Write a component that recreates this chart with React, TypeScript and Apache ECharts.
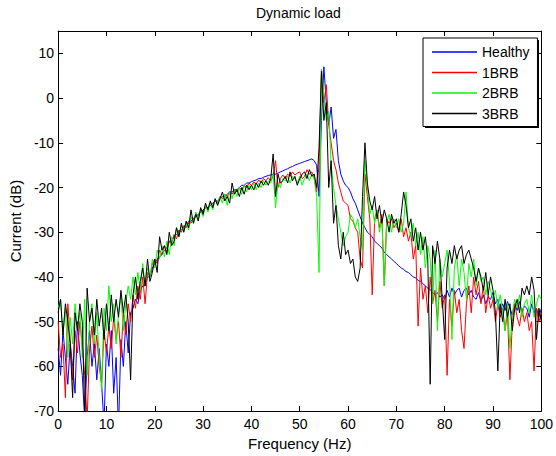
import React, { useEffect, useRef } from "react";
import * as echarts from "echarts";

// Sampling grid of the spectrum (Hz)
const FREQ_HZ: number[] = Array.from({ length: 201 }, (_, i) => i * 0.5);

const SERIES_NAMES = ["Healthy", "1BRB", "2BRB", "3BRB"];
const SERIES_COLORS = ["#0000ff", "#ff0000", "#00ff00", "#000000"];

// Current spectra (dB), one value per 0.5 Hz from 0 to 100 Hz
const HEALTHY: number[] = [
  -56, -62, -52, -58, -64, -55, -60, -66, -50, -57,
  -62, -72, -58, -52, -60, -55, -63, -56, -64, -73,
  -55, -60, -52, -66, -58, -74, -54, -60, -50, -57,
  -48, -47, -45, -46, -43, -42, -42, -40, -40, -38,
  -37, -36, -35.5, -35, -34, -33.5, -32, -32, -31, -30.5,
  -30, -29.5, -29, -28, -28, -27.5, -27, -26.5, -26, -25.5,
  -25, -24.5, -24.5, -24, -23.5, -23, -23, -22.5, -22, -22,
  -21.5, -21, -21, -20.5, -20.5, -20, -19.5, -19.5, -19, -19,
  -18.7, -18.5, -18.3, -18, -18, -17.7, -17.5, -17.3, -17.2, -17,
  -17, -16.8, -16.5, -16.3, -16, -15.8, -15.5, -15.3, -15, -14.8,
  -14.6, -14.4, -14.2, -14, -13.8, -13.6, -14, -15, -22, -5,
  7, -1, -6, -2, -9, -7, -14, -17, -18.5, -19.5,
  -20, -21, -22.5, -23.5, -25, -26.5, -28, -29, -30, -30.5,
  -31, -32, -32.5, -33, -33.5, -34.5, -35, -35.5, -36, -36.5,
  -37, -37.5, -38, -38.3, -38.8, -39, -39.5, -40, -40.2, -40.8,
  -41, -41.5, -42, -42.5, -42.8, -43.5, -44, -43.5, -44.5, -44,
  -45, -43, -44.5, -42.5, -44, -43, -42.5, -44.5, -43, -42.5,
  -44, -43, -44.5, -45, -43.5, -45.5, -44, -46, -44.5, -45,
  -43.5, -46, -45, -48, -46, -47.5, -45.5, -47, -48.5, -46,
  -47.5, -45.5, -48, -46.5, -47, -49, -46, -48, -47, -49,
  -47,
];

const BRB1: number[] = [
  -50, -58, -55, -67, -46, -54, -63, -52, -57, -50,
  -55, -62, -72, -56, -51, -58, -53, -60, -64, -52,
  -57, -51, -56, -49, -54, -50, -58, -48, -53, -46,
  -50, -44, -47, -42, -45, -40, -46, -39, -40, -37,
  -36, -37, -34, -35, -33, -34.5, -32, -32.5, -30.5, -31.5,
  -29.5, -30, -28.5, -29, -27.5, -28, -27, -26, -26.5, -25,
  -25.5, -24.5, -24.8, -23.5, -24, -23, -23.5, -22, -22.5, -21.5,
  -22, -21, -21.5, -20.5, -21, -20, -20.5, -19.5, -20, -19,
  -19.5, -18.8, -19.2, -18.3, -19, -18, -18.5, -17.8, -18.5, -17.5,
  -14, -20, -18, -17.2, -18, -17, -17.5, -16.5, -17.2, -16.8,
  -16.5, -18, -17.5, -16, -17, -16.5, -18, -21, -15, 6.5,
  -1, 3, -6, -10, -14, -16, -19, -21, -23, -23.5,
  -24, -27, -27.5, -29, -30, -36, -38, -17, -22, -27,
  -44, -27, -25, -29, -26, -42, -27, -28, -27, -29,
  -28, -30, -27, -31, -29, -32, -30, -36, -33, -51,
  -38, -45, -42, -48, -40, -46, -43, -50, -41, -47,
  -44, -62, -45, -51, -43, -48, -45, -52, -56, -46,
  -42, -48, -40, -44, -41, -46, -42, -48, -44, -47,
  -45, -50, -46, -49, -47, -52, -48, -63, -50, -46,
  -49, -51, -47, -50, -48, -52, -50, -61, -47, -50,
  -48,
];

const BRB2: number[] = [
  -47, -45, -53, -47, -58, -49, -55, -46, -52, -48,
  -58, -45, -62, -50, -46, -55, -48, -58, -65, -47,
  -52, -42, -50, -46, -55, -48, -44, -52, -46, -42,
  -45, -40, -44, -39, -43, -37, -42, -38, -40, -36,
  -38, -34, -36, -33, -35.5, -32, -35, -31, -33, -29,
  -31, -28.5, -30, -28, -29.5, -26.5, -28, -25.5, -27, -25,
  -26.5, -24, -25.5, -23.5, -25, -22.5, -24, -22, -23.5, -21.5,
  -24, -21, -22.5, -20.5, -22, -20, -21.5, -19.5, -21, -19.5,
  -20.5, -19, -20.5, -19, -20, -18.5, -19.5, -18.5, -19, -17,
  -24.5, -19, -20, -18, -18.5, -17.5, -19, -17.5, -18, -19,
  -17.5, -19.5, -18, -17, -18.5, -17, -18, -22, -39, 6.5,
  0, -5, -3, -15, -20, -24, -27, -30, -33, -31,
  -30, -26, -27, -29, -27, -31, -34, -14, -20, -26,
  -24, -28, -25, -30, -27, -42, -28, -26, -30, -27,
  -29, -27, -30, -28, -21, -29, -31, -28, -33, -30,
  -35, -31, -38, -33, -36, -46, -34, -52, -36, -40,
  -37, -34, -41, -54, -38, -35, -42, -36, -39, -45,
  -37, -40, -36, -42, -38, -41, -40, -44, -41, -43,
  -45, -43, -47, -44, -48, -52, -46, -56, -48, -45,
  -47, -44, -49, -46, -45, -48, -44, -49, -46, -44,
  -45,
];

const BRB3: number[] = [
  -48, -45, -53, -46, -50, -55, -67, -48, -52, -46,
  -50, -71, -42.5, -50, -47, -53, -45, -51, -47, -54,
  -46, -52, -44, -50, -45, -49, -43, -48, -44, -50,
  -63, -44, -40, -45, -41, -38, -42, -36, -41, -39,
  -36, -39, -31, -34, -33, -35, -30, -33, -32, -29,
  -31, -28, -30, -27.5, -29, -25, -28, -26, -27.5, -24.5,
  -26, -23.5, -25, -23, -24.5, -22.5, -24, -22.5, -21, -23,
  -22, -23.5, -19, -21.5, -20.5, -22, -20, -21.5, -19.5, -20.5,
  -19.5, -20.5, -19, -20, -18.5, -19.5, -18.5, -19.5, -18, -12.5,
  -22, -17, -19, -18.5, -17.5, -19, -16.5, -18.5, -17.5, -19.5,
  -18, -17, -16.5, -18, -16, -17.5, -17, -20, -11, 6,
  -5, -1, -20, -14, -28, -24, -33, -36, -30, -35,
  -34, -37, -36, -40, -41, -38, -22, -10, -19, -23,
  -25, -22, -27, -24, -28, -25, -27, -30, -26, -28,
  -27, -30, -26, -21, -24, -29, -27, -32, -29, -34,
  -30, -34, -31, -36, -64, -33, -37, -32, -36, -45,
  -54, -38, -34, -37, -33, -36, -34, -33, -37, -35,
  -34, -36, -38, -41, -38, -40, -43, -39, -44, -40,
  -43, -48, -61, -46, -50, -45, -49, -46, -52, -47,
  -45, -48, -42.5, -44, -42, -44, -40, -43, -54, -47,
  -50,
];

const SERIES_VALUES = [HEALTHY, BRB1, BRB2, BRB3];

const FONT = "'Liberation Sans', Arial, Helvetica, sans-serif";

export default function App() {
  const ref = useRef<HTMLDivElement>(null);

  useEffect(() => {
    if (!ref.current) return;
    const chart = echarts.init(ref.current, null, { renderer: "svg" });

    const axisLine = { show: true, onZero: false, lineStyle: { color: "#000", width: 1 } };
    const axisTick = { show: true, inside: true, length: 5, lineStyle: { color: "#000", width: 1 } };

    chart.setOption({
      animation: false,
      backgroundColor: "#ffffff",
      textStyle: { fontFamily: FONT, color: "#000" },
      title: {
        text: "Dynamic load",
        left: 256,
        top: 6,
        padding: 0,
        textStyle: { fontSize: 14, fontWeight: "normal", color: "#000", fontFamily: FONT },
      },
      grid: { left: 56, top: 31, right: 11, bottom: 43, containLabel: false },
      xAxis: [
        {
          type: "value",
          position: "bottom",
          min: 0,
          max: 100,
          interval: 10,
          name: "Frequency (Hz)",
          nameLocation: "middle",
          nameGap: 24,
          nameTextStyle: { fontSize: 15, color: "#000", fontFamily: FONT },
          axisLine,
          axisTick,
          axisLabel: { fontSize: 14, color: "#000", margin: 6, fontFamily: FONT },
          splitLine: { show: false },
        },
        {
          type: "value",
          position: "top",
          min: 0,
          max: 100,
          interval: 10,
          axisLine,
          axisTick,
          axisLabel: { show: false },
          splitLine: { show: false },
        },
      ],
      yAxis: [
        {
          type: "value",
          position: "left",
          min: -70,
          max: 15,
          interval: 10,
          name: "Current (dB)",
          nameLocation: "middle",
          nameGap: 33,
          nameRotate: 90,
          nameTextStyle: { fontSize: 15, color: "#000", fontFamily: FONT },
          axisLine,
          axisTick,
          axisLabel: { fontSize: 14, color: "#000", margin: 4, showMaxLabel: false, fontFamily: FONT },
          splitLine: { show: false },
        },
        {
          type: "value",
          position: "right",
          min: -70,
          max: 15,
          interval: 10,
          axisLine,
          axisTick,
          axisLabel: { show: false },
          splitLine: { show: false },
        },
      ],
      legend: {
        data: SERIES_NAMES,
        orient: "vertical",
        left: 423,
        top: 38,
        icon: "rect",
        itemWidth: 45,
        itemHeight: 1.5,
        itemGap: 6.5,
        padding: [7, 8, 6, 9],
        backgroundColor: "#ffffff",
        borderColor: "#000",
        borderWidth: 1,
        borderRadius: 0,
        z: 5,
        selectedMode: false,
        textStyle: { fontSize: 14, color: "#000", fontFamily: FONT },
      },
      graphic: [
        {
          type: "rect",
          z: 3,
          silent: true,
          shape: { x: 425, y: 40, width: 114, height: 88 },
          style: { fill: "#000" },
        },
      ],
      series: SERIES_NAMES.map((name, k) => ({
        name,
        type: "line",
        data: FREQ_HZ.map((f, i) => [f, SERIES_VALUES[k][i]]),
        showSymbol: false,
        symbol: "none",
        clip: true,
        silent: true,
        z: 2,
        lineStyle: { width: 1, color: SERIES_COLORS[k] },
        itemStyle: { color: SERIES_COLORS[k] },
      })),
    });

    return () => chart.dispose();
  }, []);

  return (
    <div
      ref={ref}
      style={{ position: "fixed", left: 0, top: 0, width: 556, height: 456, background: "#fff" }}
    />
  );
}
